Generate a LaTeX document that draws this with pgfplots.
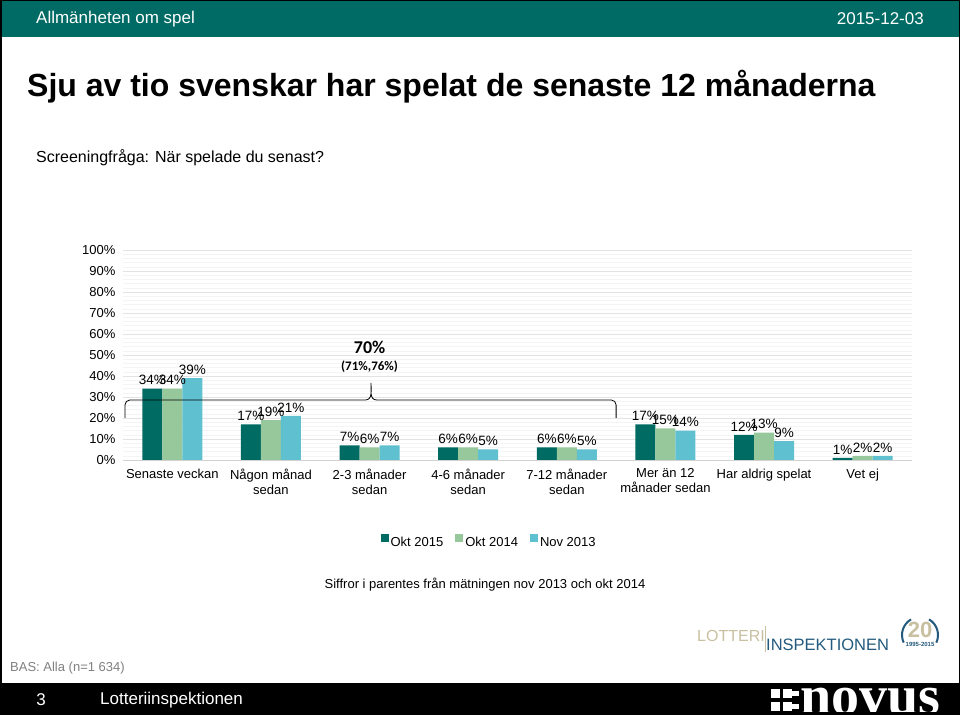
\documentclass[border=0pt]{standalone}
\usepackage{pgfplots}
\pgfplotsset{compat=1.18}
\usepackage{pgfplotstable}
\usepackage{fontspec}
\setmainfont{Liberation Sans}
\newfontfamily\carlito{Carlito}
\newfontfamily\novusfont{Liberation Serif}
\definecolor{teal15}{RGB}{0,107,98}
\definecolor{green14}{RGB}{150,200,155}
\definecolor{blue13}{RGB}{95,192,208}
\definecolor{header}{RGB}{0,107,100}
\definecolor{lotgold}{RGB}{200,192,160}
\definecolor{lotblue}{RGB}{35,90,125}

\pgfplotstableread{
x a b c
0 34 34 39
1 17 19 21
2 7 6 7
3 6 6 5
4 6 6 5
5 17 15 14
6 12 13 9
7 1 2 2
}\data

\begin{document}
\begin{tikzpicture}[x=1pt,y=1pt]
\useasboundingbox (0,0) rectangle (960,714);
\fill[white] (0,0) rectangle (960,714);
% header
\fill[header] (0,677) rectangle (960,714);
\node[anchor=west,text=white,font=\fontsize{17}{20}\selectfont,inner sep=0] at (36,695) {Allmänheten om spel};
\node[anchor=east,text=white,font=\fontsize{17}{20}\selectfont,inner sep=0] at (924,695) {2015-12-03};
% title
\node[anchor=base west,font=\bfseries\fontsize{32}{36}\selectfont,inner sep=0] at (27,617) {Sju av tio svenskar har spelat de senaste 12 månaderna};
\node[anchor=base west,font=\fontsize{16}{19}\selectfont,inner sep=0] at (36,551) {Screeningfråga: När spelade du senast?};

\begin{axis}[
  at={(123pt,254pt)}, anchor=south west,
  scale only axis, width=789pt, height=210pt,
  ybar=0pt, bar width=20pt,
  xmin=-0.5, xmax=7.5, ymin=0, ymax=100,
  xtick={0,...,7},
  xticklabels={Senaste veckan,{Någon månad\\sedan},{2-3 månader\\sedan},{4-6 månader\\sedan},{7-12 månader\\sedan},{Mer än 12\\månader sedan},Har aldrig spelat,Vet ej},
  ytick={0,10,...,100},
  minor y tick num=4,
  ymajorgrids, yminorgrids,
  major grid style={gray!22, line width=0.4pt},
  minor grid style={gray!9, line width=0.4pt},
  axis x line*=bottom, axis y line*=left,
  x axis line style={draw=gray!35,-},
  y axis line style={draw=none},
  tick style={draw=none},
  /pgf/number format/assume math mode=true,
  yticklabel={\pgfmathprintnumber{\tick}\%},
  ticklabel style={font=\fontsize{13}{15}\selectfont},
  yticklabel style={xshift=-4pt},
  xticklabel style={align=center, font=\fontsize{13}{15}\selectfont, yshift=-1pt},
  nodes near coords={\pgfmathprintnumber{\pgfplotspointmeta}\%},
  every node near coord/.append style={font=\fontsize{13.5}{15}\selectfont, inner sep=3.5pt, text=black},
  legend style={at={(0.464,-0.386)}, anchor=center, draw=none, fill=none,
     legend columns=3, font=\fontsize{13}{15}\selectfont,
     nodes={text height=9.5pt, text depth=0pt},
     /tikz/every even column/.append style={column sep=10pt}},
  legend image code/.code={\fill[#1] (0pt,0pt) rectangle (8pt,8pt);},
  clip=false,
]
\addplot[fill=teal15, draw=none] table[x=x,y=a]{\data};
\addplot[fill=green14, draw=none] table[x=x,y=b]{\data};
\addplot[fill=blue13, draw=none] table[x=x,y=c]{\data};
\legend{Okt 2015,Okt 2014,Nov 2013}
\draw[black, line width=0.8pt] (axis cs:-0.48,20) -- (axis cs:-0.48,26.2) to[out=90,in=180] (axis cs:-0.43,28.6) -- (axis cs:1.96,28.6) to[out=0,in=270] (axis cs:2.015,36.7) to[out=270,in=180] (axis cs:2.07,28.6) -- (axis cs:4.45,28.6) to[out=0,in=90] (axis cs:4.5,26.2) -- (axis cs:4.5,20);
\node[font=\carlito\bfseries\fontsize{18}{20}\selectfont] at (axis cs:2.0,53.8) {70\%};
\node[font=\carlito\bfseries\fontsize{13}{15}\selectfont] at (axis cs:2.0,44.3) {(71\%,76\%)};
\end{axis}

% footnote
\node[font=\fontsize{13}{15}\selectfont] at (485,129) {Siffror i parentes från mätningen nov 2013 och okt 2014};

% logos
\node[anchor=west,inner sep=0,text=lotgold,font=\fontsize{16}{18}\selectfont] at (697,78) {LOTTERI};
\draw[lotgold,line width=0.8pt] (765,88) -- (765,62);
\node[anchor=west,inner sep=0,text=lotblue,font=\fontsize{16.5}{18}\selectfont] at (766,69) {INSPEKTIONEN};
\draw[lotblue,line width=2pt] (920,79) ++(205:18) arc (205:120:18);
\draw[lotblue,line width=2pt] (920,79) ++(-25:18) arc (-25:60:18);
\node[text=lotgold,font=\bfseries\fontsize{22}{24}\selectfont,inner sep=0] at (920,84) {20};
\node[text=lotblue,font=\bfseries\fontsize{6}{7}\selectfont,inner sep=0] at (920,70) {1995-2015};

% BAS
\node[anchor=west,inner sep=0,text=gray,font=\fontsize{13}{15}\selectfont] at (10,46) {BAS: Alla (n=1 634)};

% footer
\fill[black] (0,0) rectangle (960,31);
\node[text=white,font=\fontsize{17}{20}\selectfont,inner sep=0] at (41,14) {3};
\node[anchor=west,text=white,font=\fontsize{17}{20}\selectfont,inner sep=0] at (100,14) {Lotteriinspektionen};
% novus logo
\fill[white] (771,16) rectangle (780,25);
\fill[white] (771,3) rectangle (780,12);
\fill[white] (783,16) rectangle (792,25);
\fill[white] (783,3) rectangle (792,12);
\fill[white] (792,18) rectangle (799,23);
\fill[white] (792,5) rectangle (799,10);
\begin{scope}
\clip (0,0) rectangle (960,714);
\node[anchor=base west,inner sep=0,text=white,font=\novusfont\bfseries\fontsize{56}{60}\selectfont] at (800,-1) {novus};
\end{scope}

% frame
\draw[black,line width=3pt] (0,0) rectangle (960,714);
\end{tikzpicture}
\end{document}
